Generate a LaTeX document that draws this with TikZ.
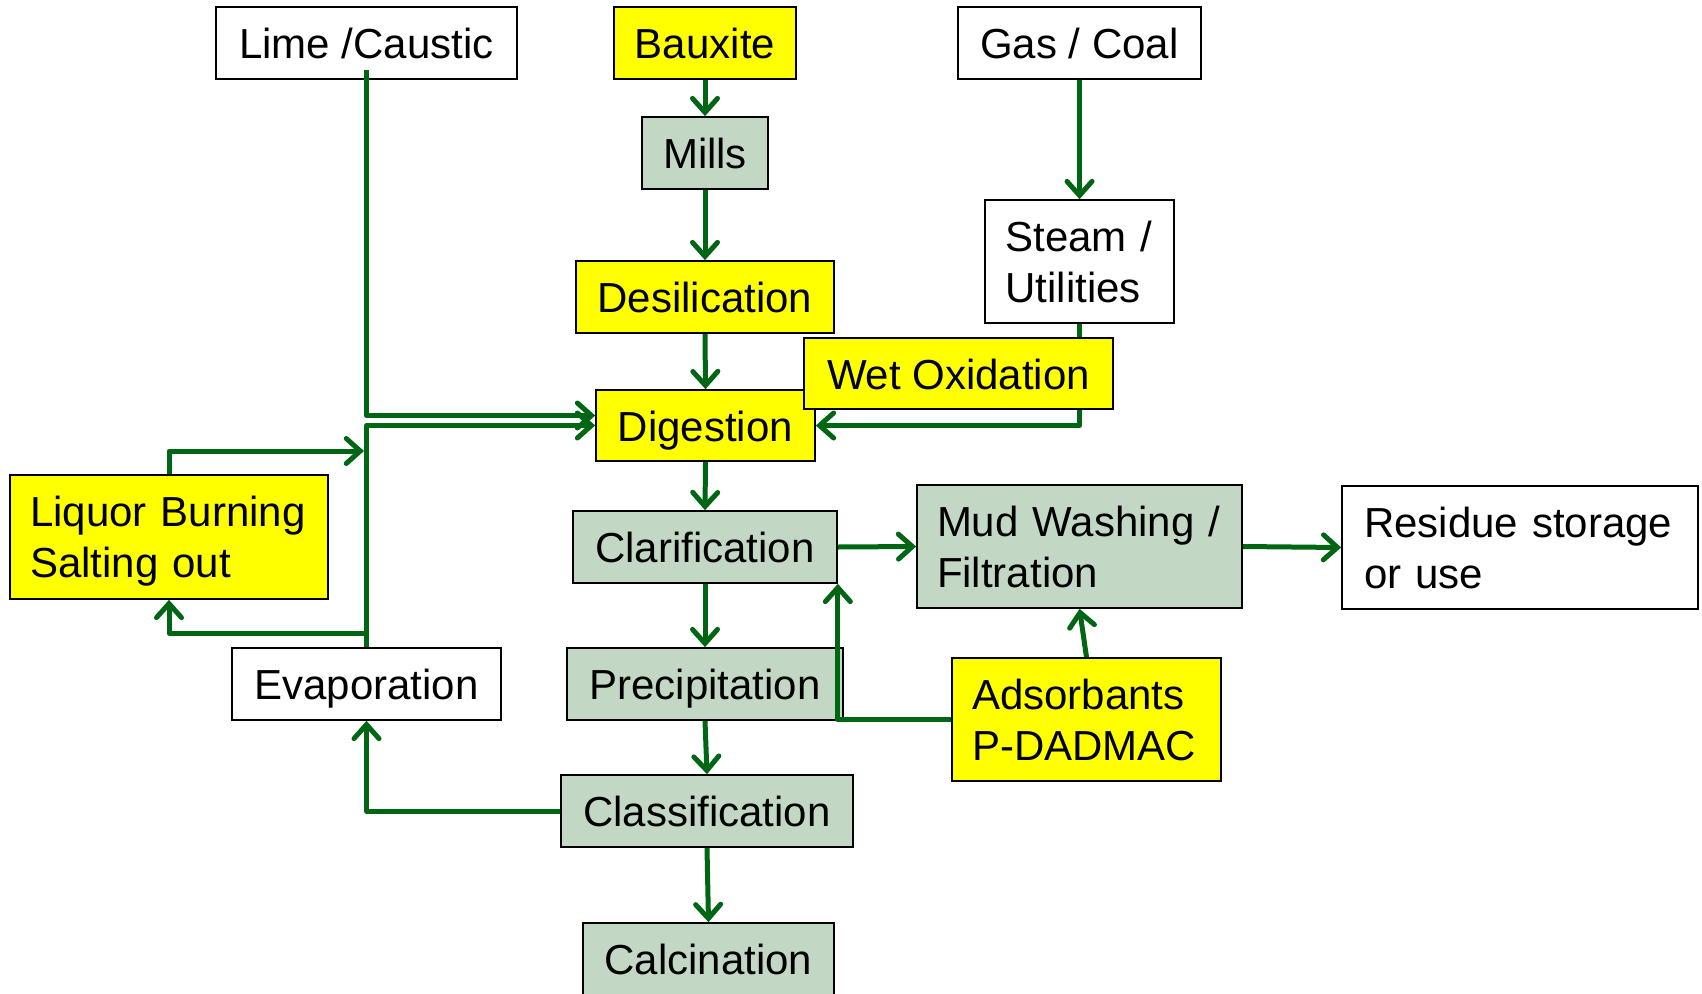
\documentclass[tikz,border=0pt]{standalone}
\usepackage{fontspec}
\setmainfont{Liberation Sans}
\usetikzlibrary{arrows.meta,calc}
\definecolor{flowgreen}{RGB}{0,102,20}
\definecolor{boxgreen}{RGB}{194,216,196}
\definecolor{boxyellow}{RGB}{255,255,0}
\pgfdeclarelayer{bg}
\pgfsetlayers{bg,main}
\tikzset{
  box/.style={draw=black, line width=1.7pt, inner sep=0pt,
    font=\fontsize{42}{51}\selectfont},
  oneline/.style={text height=31pt, text depth=0pt},
  twoline/.style={align=left},
  wbox/.style={box, fill=white},
  ybox/.style={box, fill=boxyellow},
  gbox/.style={box, fill=boxgreen},
  flow/.style={draw=flowgreen, line width=5pt, line join=round,
    -{Straight Barb[length=14pt,width=25pt,line cap=round]}},
}
\begin{document}
\begin{tikzpicture}[x=1pt,y=-1pt]
\useasboundingbox (0,0) rectangle (1702,993);
\clip (0,0) rectangle (1702,993);
% boxes
\node[wbox,oneline,minimum width=301pt,minimum height=72pt] (lime) at (366.5,43) {Lime /Caustic};
\node[ybox,oneline,minimum width=182pt,minimum height=72pt] (baux) at (705,43) {Bauxite};
\node[wbox,oneline,minimum width=243pt,minimum height=72pt] (gas) at (1079.5,43) {Gas / Coal};
\node[gbox,oneline,minimum width=126pt,minimum height=72pt] (mills) at (705,153) {Mills};
\node[ybox,oneline,minimum width=258pt,minimum height=72pt] (desil) at (705,297) {Desilication};
\node[wbox,twoline,text width=148pt,minimum width=189pt,minimum height=123pt] (steam) at (1079.5,261.5) {Steam /\\Utilities};
\node[ybox,oneline,minimum width=219pt,minimum height=71pt] (dig) at (705.5,425.5) {Digestion};
\node[ybox,oneline,minimum width=309pt,minimum height=71pt] (wetox) at (958.5,373.5) {Wet Oxidation};
\node[ybox,twoline,text width=278pt,minimum width=318pt,minimum height=124pt] (liquor) at (169,537) {Liquor Burning\\\smash{Salting out}};
\node[gbox,oneline,minimum width=264pt,minimum height=72pt] (clar) at (705,547) {Clarification};
\node[gbox,twoline,text width=285pt,minimum width=325pt,minimum height=123pt] (mud) at (1079.5,546.5) {Mud Washing /\\Filtration};
\node[wbox,twoline,text width=312pt,minimum width=356pt,minimum height=123pt] (resid) at (1520,547.5) {Residue storage\\or use};
\node[wbox,oneline,minimum width=269pt,minimum height=72pt] (evap) at (366.5,684) {Evaporation};
\node[gbox,oneline,minimum width=276pt,minimum height=72pt] (prec) at (705,684) {Precipitation};
\node[ybox,twoline,text width=229pt,minimum width=269pt,minimum height=123pt] (adsorb) at (1086.5,719.5) {Adsorbants\\P-DADMAC};
\node[gbox,oneline,minimum width=292pt,minimum height=72pt] (class) at (707,811) {Classification};
\node[gbox,oneline,minimum width=251pt,minimum height=72pt] (calc) at (708.5,959) {Calcination};
% helper coordinates
\coordinate (limeout) at ($(lime.south)+(0,-10)$);
\coordinate (jA) at (364,451);
\coordinate (jB) at (366.5,633);
% connectors behind boxes
\begin{pgfonlayer}{bg}
\draw[flow] (baux.south) -- (mills.north);
\draw[flow] (mills.south) -- (desil.north);
\draw[flow] (desil.south) -- (dig.north);
\draw[flow] (dig.south) -- (clar.north);
\draw[flow] (clar.south) -- (prec.north);
\draw[flow] (prec.south) -- (class.north);
\draw[flow] (class.south) -- (calc.north);
\draw[flow] (gas.south) -- (steam.north);
\draw[flow] (steam.south) |- (dig.east);
\draw[flow] (evap.north) |- (dig.west);
\draw[flow] (liquor.north) |- (jA);
\draw[flow] (jB) -| (liquor.south);
\draw[flow] (class.west) -| (evap.south);
\draw[flow] (clar.east) -- (mud.west);
\draw[flow] (mud.east) -- (resid.west);
\draw[flow] (adsorb.north) -- (mud.south);
\end{pgfonlayer}
% connectors above boxes
\draw[flow] (limeout) |- ($(dig.west)+(0,-10)$);
\draw[flow] (adsorb.west) -| (clar.south east);
\end{tikzpicture}
\end{document}
